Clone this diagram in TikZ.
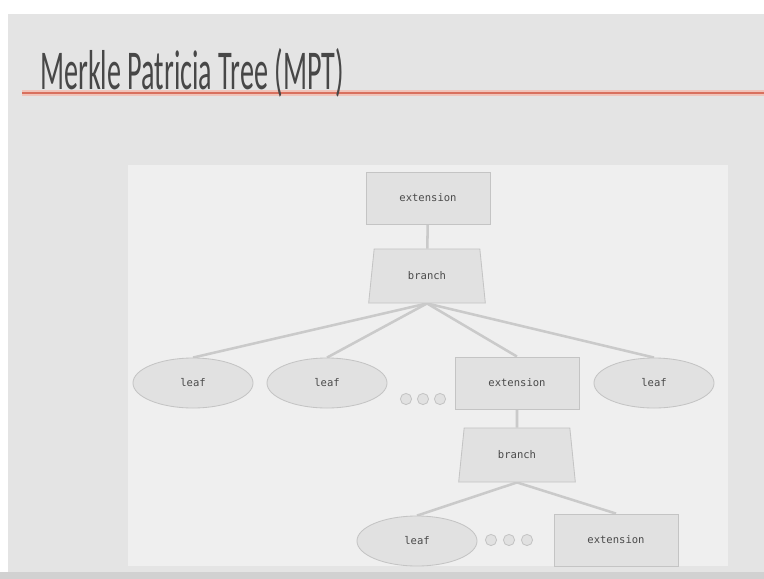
\documentclass[tikz,border=0pt]{standalone}
\usepackage{fontspec}
\setmainfont{Carlito}
\setmonofont{DejaVu Sans Mono}
\usepackage{tikz}
\usetikzlibrary{shapes.geometric,backgrounds}
\definecolor{slidebg}{HTML}{E4E4E4}
\definecolor{panelbg}{HTML}{EFEFEF}
\definecolor{nodefill}{HTML}{E1E1E1}
\definecolor{nodeline}{HTML}{C4C4C4}
\definecolor{edgecol}{HTML}{CACACA}
\definecolor{textcol}{HTML}{4A4A4A}
\definecolor{titlered}{HTML}{D8705E}
\definecolor{titlepink}{HTML}{F0C4BA}

\begin{document}
\begin{tikzpicture}[x=0.025cm,y=-0.025cm,
  extbox/.style={rectangle,draw=nodeline,fill=nodefill,line width=0.6pt,
    minimum width=3.1cm,minimum height=1.3cm,font=\ttfamily\fontsize{7.5}{8}\selectfont,text=textcol},
  branchbox/.style={trapezium,draw=nodeline,fill=nodefill,line width=0.6pt,
    trapezium left angle=82,trapezium right angle=82,trapezium stretches=true,
    minimum width=2.92cm,minimum height=1.35cm,font=\ttfamily\fontsize{7.5}{8}\selectfont,text=textcol},
  leafnode/.style={ellipse,draw=nodeline,fill=nodefill,line width=0.6pt,
    minimum width=3cm,minimum height=1.25cm,font=\ttfamily\fontsize{7.5}{8}\selectfont,text=textcol},
  dotnode/.style={circle,draw=nodeline,fill=nodefill,line width=0.6pt,minimum size=0.28cm,inner sep=0pt},
  edge/.style={draw=edgecol,line width=1.8pt}]
\useasboundingbox (0,0) rectangle (764,579);
% slide and panel
\begin{scope}[on background layer]
\fill[white] (0,0) rectangle (764,579);
\fill[slidebg] (8,14) rectangle (764,579);
\fill[panelbg] (128,165) rectangle (728,566);
\fill[black!18] (0,572) rectangle (764,579);
\end{scope}
% title
\draw[titlepink,line width=4.5pt] (22,93) -- (764,93);
\draw[titlered,line width=1.2pt] (22,93) -- (764,93);
\node[anchor=base west,inner sep=0pt,text=black!72] (title) at (40,89)
  {\scalebox{0.5}[1]{\fontsize{40}{46}\selectfont Merkle Patricia Tree (MPT)}};
% nodes
\node[extbox] (ext1) at (428,198) {extension};
\node[branchbox] (br1) at (427,276) {branch};
\node[leafnode] (leaf1) at (193,383) {leaf};
\node[leafnode] (leaf2) at (327,383) {leaf};
\node[extbox] (ext2) at (517,383) {extension};
\node[leafnode] (leaf3) at (654,383) {leaf};
\node[branchbox] (br2) at (517,455) {branch};
\node[leafnode] (leaf4) at (417,541) {leaf};
\node[extbox] (ext3) at (616,540) {extension};
\node[dotnode] (d1) at (406,399) {};
\node[dotnode] (d2) at (423,399) {};
\node[dotnode] (d3) at (440,399) {};
\node[dotnode] (d4) at (491,540) {};
\node[dotnode] (d5) at (509,540) {};
\node[dotnode] (d6) at (527,540) {};
% connectors
\begin{scope}[on background layer]
\draw[edge] (ext1) -- (br1);
\draw[edge] (br1.south) -- (leaf1.north);
\draw[edge] (br1.south) -- (leaf2.north);
\draw[edge] (br1.south) -- (ext2.north);
\draw[edge] (br1.south) -- (leaf3.north);
\draw[edge] (ext2) -- (br2);
\draw[edge] (br2.south) -- (leaf4.north);
\draw[edge] (br2.south) -- (ext3.north);
\end{scope}
\end{tikzpicture}
\end{document}
